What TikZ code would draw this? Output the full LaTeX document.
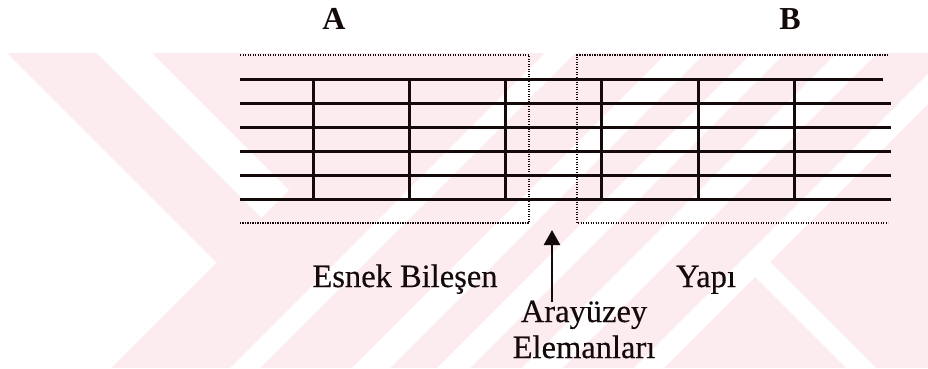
\documentclass[tikz,border=0pt]{standalone}
\usepackage{fontspec}
\setmainfont{Liberation Serif}
\newfontfamily\heavyserif{Liberation Serif}[FakeBold=0.4]
\usetikzlibrary{arrows.meta}
\definecolor{wmpink}{RGB}{253,236,239}
\definecolor{ink}{RGB}{20,10,10}
\tikzset{
  gridline/.style={line width=3pt, ink},
  dotline/.style={line width=1.7pt, ink, dash pattern=on 1.4pt off 1.1pt},
  lbl/.style={font=\heavyserif\fontsize{32.5}{38}\selectfont, text=ink, anchor=base, inner sep=0pt},
  hdr/.style={font=\fontsize{32}{38}\selectfont\bfseries, text=ink, anchor=base, inner sep=0pt},
  arr/.style={line width=2.6pt, ink, -{Triangle[width=16pt,length=15pt]}}
}
\begin{document}
\begin{tikzpicture}[x=1pt,y=-1pt]
\useasboundingbox (0,0) rectangle (928,368);
% watermark
\begin{scope}
  \clip (0,53) rectangle (928,368);
  \fill[wmpink] (0,53) rectangle (928,368);
  \fill[white] (0,53) -- (7,53) -- (216.5,262.5) -- (111,368) -- (0,368) -- cycle;
  \fill[white] (97,53) -- (152,53) -- (289,190) -- (261.5,217.5) -- cycle;
  \foreach \a/\b in {598/628, 720/758, 805/838, 890/930, 1002/1032}{
    \fill[white] (\a-53,53) -- (\b-53,53) -- (\b-368,368) -- (\a-368,368) -- cycle;
  }
  \fill[white] (755,247) -- (876,368) -- (846,368) -- (740,262) -- cycle;
\end{scope}
% grid
\foreach \y in {103,127,151,175,199}{
  \draw[gridline] (240,\y) -- (891,\y);
}
\draw[gridline] (240,79) -- (883,79);
\foreach \x in {313,409,505,601,698,794}{
  \draw[gridline] (\x,79) -- (\x,199);
}
% dotted boxes
\draw[dotline] (240,55) -- (529,55) -- (529,223) -- (240,223);
\draw[dotline] (888,55) -- (577,55) -- (577,223) -- (888,223);
% labels
\node[hdr] (A) at (334,29) {A};
\node[hdr] (B) at (790,29) {B};
\node[lbl] (esnek) at (405,287) {Esnek Bileşen};
\node[lbl] (yapi) at (706,287) {Yapı};
\node[lbl] (aray) at (584,322) {Arayüzey};
\node[lbl] (elem) at (584,358) {Elemanları};
\coordinate (tail) at (552,302);
\coordinate (tip) at (552,230);
\draw[arr] (tail) -- (tip);
\end{tikzpicture}
\end{document}
